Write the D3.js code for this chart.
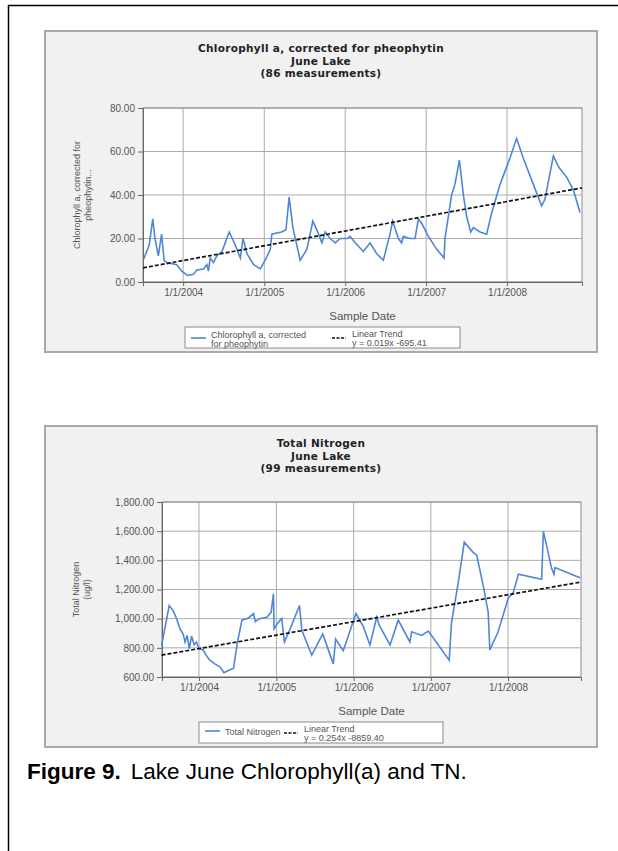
<!DOCTYPE html>
<html>
<head>
    <title>Lake June Chlorophyll(a) and TN</title>
    <script src="https://d3js.org/d3.v7.min.js"></script>
    <style>
        body {
            margin: 0;
            background: #ffffff;
        }
        svg text {
            font-family: "Liberation Sans", Arial, sans-serif;
        }
        .title {
            font-family: "DejaVu Sans", Verdana, sans-serif !important;
            font-weight: bold;
            font-size: 10.5px;
            letter-spacing: 0.3px;
            fill: #222;
        }
        .tick text {
            font-size: 10px;
            fill: #555;
        }
        .small {
            font-size: 9px;
            fill: #555;
        }
    </style>
</head>
<body>
<div id="figure"></div>
<script>
    // Chlorophyll a, corrected for pheophytin (86 measurements)
    const chlDates = ["2003-07-05","2003-08-01","2003-08-17","2003-08-27","2003-09-11","2003-09-26","2003-10-07","2003-10-19","2003-12-03","2003-12-26",
        "2004-01-20","2004-02-16","2004-03-03","2004-04-02","2004-04-17","2004-04-24","2004-05-02","2004-05-17","2004-06-01","2004-06-24",
        "2004-07-27","2004-08-23","2004-09-15","2004-09-27","2004-10-15","2004-11-14","2004-12-14","2005-01-05","2005-01-28","2005-02-04",
        "2005-03-20","2005-04-09","2005-04-23","2005-05-10","2005-06-12","2005-07-12","2005-08-08","2005-09-03","2005-09-18","2005-10-03",
        "2005-10-25","2005-11-17","2005-12-09","2006-01-11","2006-01-23","2006-02-15","2006-03-24","2006-04-23","2006-05-23","2006-06-22",
        "2006-07-22","2006-08-03","2006-08-29","2006-09-13","2006-09-20","2006-10-20","2006-11-12","2006-11-27","2006-12-12","2007-01-11",
        "2007-02-18","2007-03-23","2007-03-27","2007-04-26","2007-05-11","2007-05-31","2007-06-18","2007-07-03","2007-07-21","2007-08-02",
        "2007-09-01","2007-10-01","2007-10-24","2007-12-01","2008-01-14","2008-02-13","2008-03-14","2008-04-28","2008-06-05","2008-06-20",
        "2008-07-05","2008-07-28","2008-08-20","2008-09-27","2008-10-27","2008-11-25"];
    const chlValues = [10,17,29,20,12,22,10,9,8,5,
        3,3.5,5.5,6,8,5,11,9,12,14,
        23,17,11,20,13,8,6,10,15,22,
        23,24,39,25,10,15,28,22,18,23,
        20,18,20,20,21,18,14,18,13,10,
        22,28,20,18,21,20,20,29,27,21,
        15,11,20,40,45,56,40,30,23,25,
        23,22,32,45,57,66,57,45,35,38,
        46,58,53,48,42,32];
    const chlTrendDates = ["2003-07-04","2008-12-04"];
    const chlTrendValues = [6.5, 43.3];
    const chlTicks = [0, 20, 40, 60, 80];

    // Total Nitrogen (ug/l)
    const tnDates = ["2003-07-08","2003-08-13","2003-09-01","2003-09-17","2003-10-03","2003-10-18","2003-10-27","2003-11-06","2003-11-16","2003-11-27",
        "2003-12-09","2003-12-20","2004-01-01","2004-01-21","2004-02-03","2004-02-21","2004-03-16","2004-04-09","2004-04-28","2004-05-19",
        "2004-06-12","2004-07-01","2004-07-22","2004-08-22","2004-09-15","2004-09-23","2004-10-13","2004-11-17","2004-12-07","2004-12-18",
        "2004-12-21","2005-01-10","2005-01-26","2005-02-08","2005-03-07","2005-04-20","2005-05-01","2005-06-17","2005-08-08","2005-09-27",
        "2005-10-08","2005-11-13","2006-01-12","2006-02-16","2006-03-19","2006-04-20","2006-05-02","2006-06-22","2006-07-31","2006-09-24",
        "2006-10-02","2006-11-18","2006-12-20","2007-03-29","2007-04-09","2007-05-11","2007-06-08","2007-07-20","2007-08-06","2007-09-06",
        "2007-09-29","2007-10-07","2007-11-15","2008-01-02","2008-01-26","2008-02-19","2008-06-08","2008-06-16","2008-07-25","2008-08-05",
        "2008-08-10","2008-12-06"];
    const tnValues = [815,1090,1055,1000,930,895,840,885,795,880,
        820,840,795,785,750,715,690,670,630,645,
        660,840,990,1005,1035,980,1000,1010,1045,1170,
        930,975,1000,840,930,1090,920,750,895,690,
        860,780,1035,945,820,1010,955,820,990,840,
        910,885,915,715,975,1250,1525,1455,1435,1225,
        1045,785,910,1140,1180,1305,1270,1600,1345,1305,
        1350,1280];
    const tnTrendDates = ["2003-07-08","2008-12-06"];
    const tnTrendValues = [750, 1250];
    const tnTicks = [600, 800, 1000, 1200, 1400, 1600, 1800];

    const yearTicks = ["2004-01-01","2005-01-01","2006-01-01","2007-01-01","2008-01-01"];

    const width = 618, height = 851;
    const parseDate = d3.timeParse("%Y-%m-%d");
    const tickDate = d3.timeFormat("%-m/%-d/%Y");
    const seriesColor = "#4f86d6";

    const svg = d3.select("#figure").append("svg")
        .attr("width", width)
        .attr("height", height);

    // outer frame (table cell border)
    svg.append("line").attr("x1", 8.5).attr("y1", 5).attr("x2", 8.5).attr("y2", height)
        .style("stroke", "#000").style("stroke-width", 1.5);
    svg.append("line").attr("x1", 8).attr("y1", 5.5).attr("x2", width).attr("y2", 5.5)
        .style("stroke", "#000").style("stroke-width", 1.5);

    function drawChart(cfg) {
        var g = svg.append("g");
        var p = cfg.plot;

        // grey panel
        g.append("rect")
            .attr("x", cfg.panel.x).attr("y", cfg.panel.y)
            .attr("width", cfg.panel.w).attr("height", cfg.panel.h)
            .style("fill", "#f1f1f1")
            .style("stroke", "#a9a9a9")
            .style("stroke-width", 2);

        // titles
        cfg.title.forEach((t, i) => {
            g.append("text")
                .attr("class", "title")
                .attr("x", cfg.panel.x + cfg.panel.w / 2)
                .attr("y", cfg.titleY + i * 12.5)
                .style("text-anchor", "middle")
                .text(t);
        });

        var x = d3.scaleTime().domain(cfg.xDomain.map(parseDate)).range([p.left, p.right]);
        var y = d3.scaleLinear().domain(d3.extent(cfg.yTicks)).range([p.bottom, p.top]);

        g.append("rect")
            .attr("x", p.left).attr("y", p.top)
            .attr("width", p.right - p.left).attr("height", p.bottom - p.top)
            .style("fill", "#fff");

        // gridlines
        g.selectAll(".hgrid").data(cfg.yTicks).enter().append("line")
            .attr("x1", p.left).attr("x2", p.right)
            .attr("y1", d => y(d)).attr("y2", d => y(d))
            .style("stroke", "#ababab").style("stroke-width", 1);
        g.selectAll(".vgrid").data(yearTicks.map(parseDate)).enter().append("line")
            .attr("x1", d => x(d)).attr("x2", d => x(d))
            .attr("y1", p.top).attr("y2", p.bottom)
            .style("stroke", "#ababab").style("stroke-width", 1);

        // plot border
        g.append("rect")
            .attr("x", p.left).attr("y", p.top)
            .attr("width", p.right - p.left).attr("height", p.bottom - p.top)
            .style("fill", "none")
            .style("stroke", "#8c8c8c");

        // axes
        var yAxis = g.append("g")
            .attr("transform", "translate(" + p.left + ",0)")
            .call(d3.axisLeft(y).tickValues(cfg.yTicks).tickFormat(d3.format(cfg.yFormat)).tickSize(5).tickPadding(3));
        var xAxis = g.append("g")
            .attr("transform", "translate(0," + p.bottom + ")")
            .call(d3.axisBottom(x).tickValues(yearTicks.map(parseDate)).tickFormat(tickDate).tickSize(4).tickPadding(3));
        [yAxis, xAxis].forEach(a => {
            a.select(".domain").style("stroke", "#666");
            a.selectAll(".tick line").style("stroke", "#666");
        });

        // data line
        var pts = cfg.dates.map((d, i) => ({date: parseDate(d), value: cfg.values[i]}));
        g.append("path")
            .datum(pts)
            .attr("d", d3.line().x(d => x(d.date)).y(d => y(d.value)))
            .style("fill", "none")
            .style("stroke", seriesColor)
            .style("stroke-width", 1.6)
            .style("stroke-linejoin", "miter");

        // linear trend
        var trend = cfg.trendDates.map((d, i) => ({date: parseDate(d), value: cfg.trendValues[i]}));
        g.append("path")
            .datum(trend)
            .attr("d", d3.line().x(d => x(d.date)).y(d => y(d.value)))
            .style("fill", "none")
            .style("stroke", "#111")
            .style("stroke-width", 1.7)
            .style("stroke-dasharray", "4,2");

        // axis titles
        g.append("text")
            .attr("x", (p.left + p.right) / 2)
            .attr("y", cfg.sampleY)
            .style("text-anchor", "middle")
            .style("font-size", "11.5px")
            .style("fill", "#555")
            .text("Sample Date");

        var yt = g.append("text")
            .attr("class", "small")
            .attr("transform", "translate(" + cfg.yTitleX + "," + ((p.top + p.bottom) / 2) + ") rotate(-90)")
            .style("text-anchor", "middle");
        cfg.yTitle.forEach((t, i) => {
            yt.append("tspan").attr("x", 0).attr("dy", i === 0 ? 0 : "1.2em").text(t);
        });

        // legend
        var L = cfg.legend;
        var lg = g.append("g");
        lg.append("rect")
            .attr("x", L.x).attr("y", L.y).attr("width", L.w).attr("height", L.h)
            .style("fill", "#fff").style("stroke", "#8a8a8a");
        var ly = L.y + 8;
        lg.append("line")
            .attr("x1", L.x + 6).attr("x2", L.x + 21).attr("y1", ly + L.lineDy).attr("y2", ly + L.lineDy)
            .style("stroke", seriesColor).style("stroke-width", 1.6);
        cfg.legendSeries.forEach((t, i) => {
            lg.append("text").attr("class", "small")
                .attr("x", L.x + 26).attr("y", ly + L.textDy + 3 + i * 9).text(t);
        });
        lg.append("line")
            .attr("x1", L.trendX).attr("x2", L.trendX + 14).attr("y1", ly + 3).attr("y2", ly + 3)
            .style("stroke", "#111").style("stroke-width", 1.7).style("stroke-dasharray", "3,1.5");
        ["Linear Trend", cfg.equation].forEach((t, i) => {
            lg.append("text").attr("class", "small")
                .attr("x", L.trendX + 20).attr("y", ly + 2 + i * 9).text(t);
        });
    }

    drawChart({
        panel: {x: 45, y: 31, w: 552, h: 321},
        plot: {left: 143, right: 582, top: 108, bottom: 282},
        title: ["Chlorophyll a, corrected for pheophytin", "June Lake", "(86 measurements)"],
        titleY: 52,
        xDomain: ["2003-07-04", "2008-12-04"],
        yTicks: chlTicks,
        yFormat: ".2f",
        dates: chlDates, values: chlValues,
        trendDates: chlTrendDates, trendValues: chlTrendValues,
        sampleY: 320,
        yTitle: ["Chlorophyll a, corrected for", "pheophytin..."],
        yTitleX: 80,
        legend: {x: 185, y: 327, w: 275, h: 21, trendX: 332, lineDy: 3, textDy: 0},
        legendSeries: ["Chlorophyll a, corrected", "for pheophytin"],
        equation: "y = 0.019x  -695.41"
    });

    drawChart({
        panel: {x: 45, y: 426, w: 552, h: 321},
        plot: {left: 162, right: 581, top: 502, bottom: 677},
        title: ["Total Nitrogen", "June Lake", "(99 measurements)"],
        titleY: 447,
        xDomain: ["2003-07-10", "2008-12-11"],
        yTicks: tnTicks,
        yFormat: ",.2f",
        dates: tnDates, values: tnValues,
        trendDates: tnTrendDates, trendValues: tnTrendValues,
        sampleY: 715,
        yTitle: ["Total Nitrogen", "(ug/l)"],
        yTitleX: 79,
        legend: {x: 199, y: 722, w: 244, h: 21, trendX: 284, lineDy: 1, textDy: 2},
        legendSeries: ["Total Nitrogen"],
        equation: "y = 0.254x  -8859.40"
    });

    // figure caption
    var cap = svg.append("text")
        .attr("x", 27).attr("y", 779)
        .style("font-size", "22.5px")
        .style("fill", "#000");
    cap.append("tspan").style("font-weight", "bold").text("Figure 9.");
    cap.append("tspan").attr("dx", 10).text("Lake June Chlorophyll(a) and TN.");
</script>
</body>
</html>
